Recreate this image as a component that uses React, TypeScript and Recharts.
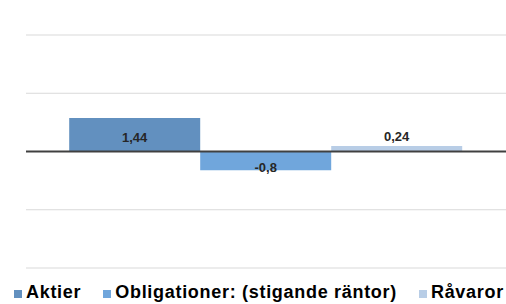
import { BarChart, Bar, XAxis, YAxis, CartesianGrid, ReferenceLine, Legend, LabelList } from 'recharts';

// one category, three series
const categories = [''];
const seriesNames = ['Aktier', 'Obligationer: (stigande räntor)', 'Råvaror'];
const aktier = [1.44];
const obligationer = [-0.8];
const ravaror = [0.24];
const yTicks = [-5, -2.5, 0, 2.5, 5];

const colors = ['#6290bf', '#70a6dc', '#b8cde6'];
const keys = ['aktier', 'obligationer', 'ravaror'];

const data = categories.map((c, i) => ({
  name: c,
  aktier: aktier[i],
  obligationer: obligationer[i],
  ravaror: ravaror[i],
}));

const fmt = (v: number) => String(v).replace('.', ',');

// label placement per series: center, inside bottom, above
const makeLabel = (mode: 'center' | 'bottom' | 'top') => (props: any) => {
  const { x, y, width, height, value } = props;
  const top = Math.min(y, y + height);
  const h = Math.abs(height);
  const cx = x + width / 2;
  let cy = top + h / 2 + 3;
  if (mode === 'bottom') cy = top + h - 3;
  if (mode === 'top') cy = top - 9;
  return (
    <text
      x={cx}
      y={cy}
      textAnchor="middle"
      dominantBaseline="central"
      fontSize={13}
      fontWeight="bold"
      fill="#262626"
      fontFamily="'Liberation Sans', Arial, sans-serif"
    >
      {fmt(value)}
    </text>
  );
};

const labelModes: ('center' | 'bottom' | 'top')[] = ['center', 'bottom', 'top'];

function LegendContent() {
  return (
    <div
      style={{
        height: 36,
        width: 506,
        boxSizing: 'border-box',
        paddingTop: 12,
        paddingLeft: 14,
        display: 'flex',
        alignItems: 'center',
        whiteSpace: 'nowrap',
        fontFamily: "'Liberation Sans', Arial, sans-serif",
        fontWeight: 'bold',
        fontSize: 18,
        letterSpacing: 0.7,
        lineHeight: '20px',
        color: '#000',
      }}
    >
      {seriesNames.map((n, i) => (
        <div key={n} style={{ display: 'flex', alignItems: 'center', marginRight: 22 }}>
          <span
            style={{
              display: 'inline-block',
              width: 8,
              height: 8,
              background: colors[i],
              marginRight: 4,
              marginTop: 4,
            }}
          />
          <span>{n}</span>
        </div>
      ))}
    </div>
  );
}

export default function App() {
  return (
    <div style={{ position: 'absolute', left: 0, top: 0, background: '#fff' }}>
      <BarChart
        width={506}
        height={304}
        data={data}
        margin={{ top: 35, right: 0, bottom: 0, left: 26 }}
        barCategoryGap="9%"
        barGap={0}
      >
        <CartesianGrid vertical={false} stroke="#d9d9d9" />
        <XAxis dataKey="name" hide />
        <YAxis hide domain={[-5, 5]} ticks={yTicks} />
        {keys.map((k, i) => (
          <Bar key={k} dataKey={k} name={seriesNames[i]} fill={colors[i]} isAnimationActive={false}>
            <LabelList dataKey={k} content={makeLabel(labelModes[i])} />
          </Bar>
        ))}
        <ReferenceLine y={0} stroke="#404040" strokeWidth={2} />
        <Legend
          verticalAlign="bottom"
          wrapperStyle={{ left: 0, width: 506 }}
          content={() => <LegendContent />}
        />
      </BarChart>
    </div>
  );
}
